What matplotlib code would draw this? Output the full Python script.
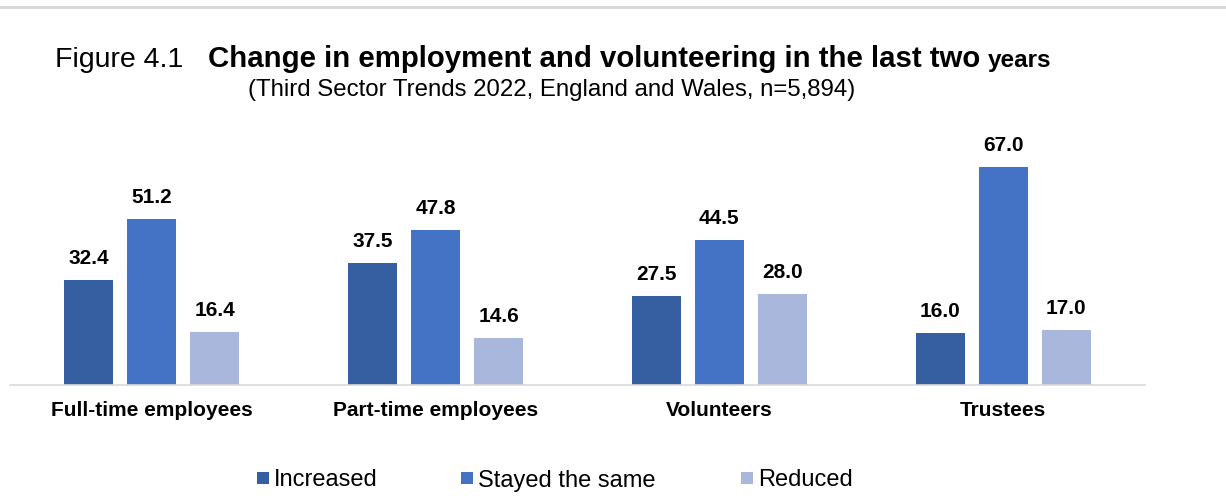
import matplotlib
matplotlib.use("Agg")
import matplotlib.pyplot as plt
from matplotlib.patches import Rectangle
from matplotlib.lines import Line2D
import numpy as np

plt.rcParams['font.family'] = ['Liberation Sans', 'DejaVu Sans']

# Data
categories = ["Full-time employees", "Part-time employees", "Volunteers", "Trustees"]
series_names = ["Increased", "Stayed the same", "Reduced"]
increased = [32.4, 37.5, 27.5, 16.0]
stayed_same = [51.2, 47.8, 44.5, 67.0]
reduced = [16.4, 14.6, 28.0, 17.0]
series_values = [increased, stayed_same, reduced]
colors = ["#365FA2", "#4472C4", "#A9B7DC"]

W, H = 1226, 503
fig = plt.figure(figsize=(W / 100, H / 100), dpi=100)

def fx(px):
    return px / W

def fy(py):
    return 1 - py / H

# Plot area in pixel terms
ax_left, ax_right = 10, 1145
ax_base, ax_top = 385, 385 - 80 * 3.25
ax = fig.add_axes([fx(ax_left), fy(ax_base), fx(ax_right - ax_left), (ax_base - ax_top) / H])

x = np.arange(len(categories))
step = 0.222
width = 0.1727
for i, (vals, col, name) in enumerate(zip(series_values, colors, series_names)):
    pos = x + (i - 1) * step
    bars = ax.bar(pos, vals, width=width, color=col, label=name, zorder=2)
    for b, v in zip(bars, vals):
        ax.annotate(f"{v:.1f}", (b.get_x() + b.get_width() / 2, v),
                    xytext=(0, 11.5), textcoords="offset points",
                    ha="center", va="baseline", fontsize=15, fontweight="bold",
                    color="#000000")

ax.set_xlim(-0.5, len(categories) - 0.5)
ax.set_ylim(0, 80)
ax.set_yticks([])
ax.set_xticks(x)
ax.set_xticklabels(categories, fontsize=15, fontweight="bold")
ax.tick_params(axis="x", length=0, pad=11.5)
for s in ["top", "left", "right"]:
    ax.spines[s].set_visible(False)
ax.spines["bottom"].set_color("#D9D9D9")
ax.spines["bottom"].set_linewidth(1.2)

# Top rule
fig.add_artist(Line2D([0, 1], [fy(7), fy(7)], transform=fig.transFigure,
                      color="#D9D9D9", linewidth=2.2))

# Title
fig.text(fx(55), fy(67), "Figure 4.1", fontsize=20.5, ha="left", va="baseline")
fig.text(fx(208), fy(67), "Change in employment and volunteering in the last two",
         fontsize=21.2, fontweight="bold", ha="left", va="baseline")
fig.text(fx(988), fy(67), "years", fontsize=17.5, fontweight="bold", ha="left", va="baseline")
fig.text(fx(248), fy(96), "(Third Sector Trends 2022, England and Wales, n=5,894)",
         fontsize=17.3, ha="left", va="baseline")

# Legend
legend_sq = [257, 461, 741]
legend_cy = 478
sq = 12
for xs, col, name in zip(legend_sq, colors, series_names):
    fig.add_artist(Rectangle((fx(xs), fy(legend_cy + sq / 2)), fx(sq), sq / H,
                             transform=fig.transFigure, facecolor=col, edgecolor="none"))
    fig.text(fx(xs + sq + 5), fy(legend_cy), name, fontsize=17, ha="left", va="center_baseline")

fig.savefig("out.png", dpi=100)
